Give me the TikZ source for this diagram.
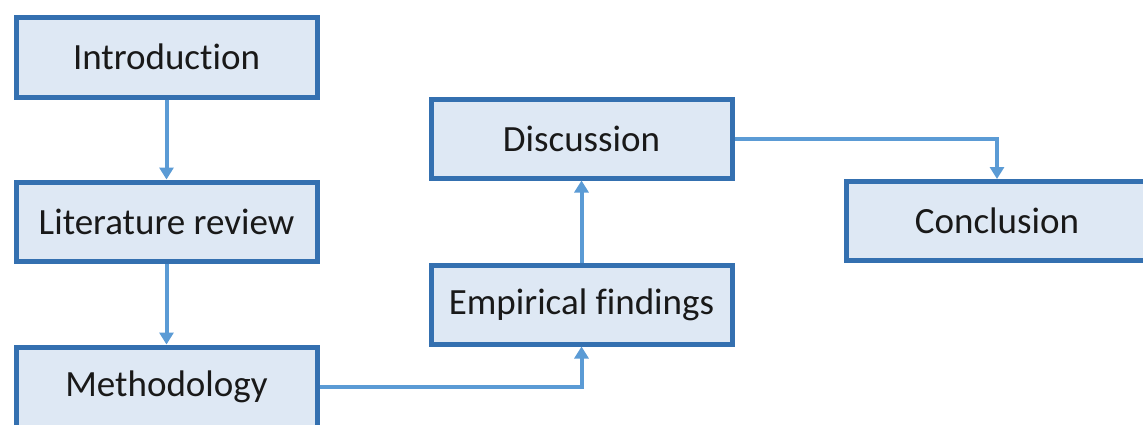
\documentclass[tikz,border=0pt]{standalone}
\usepackage{fontspec}
\setmainfont{Carlito}[Ligatures={NoCommon}]
\usetikzlibrary{arrows.meta}
\definecolor{boxfill}{HTML}{DEE8F4}
\definecolor{boxline}{HTML}{3470B0}
\definecolor{connline}{HTML}{5B9BD5}
\begin{document}
\begin{tikzpicture}[x=1pt,y=-1pt,
  stepbox/.style={draw=boxline, fill=boxfill, line width=5pt, minimum width=301pt,
    minimum height=79pt, inner sep=0pt, font=\fontsize{37}{44}\selectfont, text=black!90},
  conn/.style={draw=connline, line width=4pt, -{Triangle[width=14pt,length=12pt]}}]
\useasboundingbox (0,0) rectangle (1143,424);
\fill[white] (0,0) rectangle (1143,424);
\begin{scope}
\clip (0,0) rectangle (1143,424);
\node[stepbox, minimum height=80pt] (intro) at (166.5,57) {Introduction};
\node[stepbox] (lit) at (166.5,221.5) {Literature review};
\node[stepbox, minimum height=80pt] (meth) at (166.5,387) {Methodology};
\node[stepbox] (disc) at (581.5,138.5) {Discussion};
\node[stepbox] (emp) at (581.5,304.5) {Empirical findings};
\node[stepbox, minimum width=302pt] (conc) at (997,221) {Conclusion};
\draw[conn] (intro) -- (lit);
\draw[conn] (lit) -- (meth);
\draw[conn] (meth.east) -| (emp.south);
\draw[conn] (emp) -- (disc);
\draw[conn] (disc.east) -| (conc.north);
\end{scope}
\end{tikzpicture}
\end{document}
